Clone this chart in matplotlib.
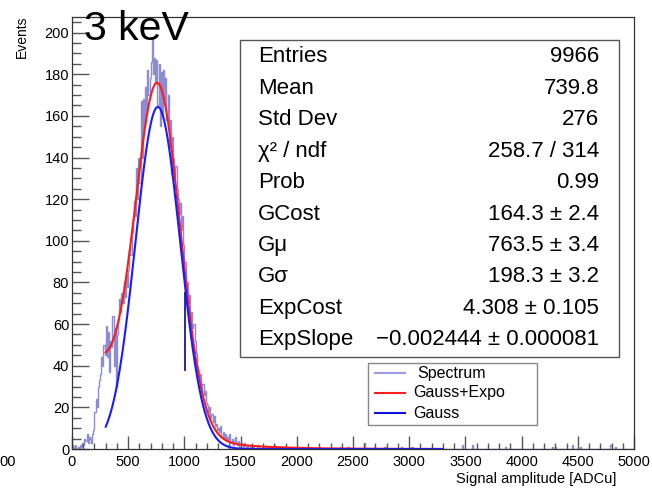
import numpy as np
import matplotlib
matplotlib.use('Agg')
import matplotlib.pyplot as plt
from matplotlib.patches import Rectangle
from matplotlib.lines import Line2D
from matplotlib.ticker import MultipleLocator

plt.rcParams['font.family'] = ['Liberation Sans', 'DejaVu Sans']

# ---------------- data ----------------
bin_width = 10
x_max = 5000

# counts per 10 ADCu bin, from 0 to 1600
main_counts = [
    2, 1, 0, 2, 0, 1, 0, 2, 1, 3,
    2, 5, 4, 7, 3, 6, 5, 3, 7, 9,
    18, 24, 20, 30, 33, 36, 44, 40, 50, 45,
    59, 44, 56, 37, 52, 49, 64, 40, 58, 30,
    55, 62, 72, 66, 75, 70, 80, 73, 84, 78,
    86, 96, 93, 104, 110, 119, 112, 135, 120, 140,
    128, 167, 140, 168, 155, 174, 162, 182, 170, 178,
    186, 197, 180, 188, 176, 187, 165, 185, 155, 181,
    160, 182, 168, 178, 158, 170, 145, 158, 132, 150,
    140, 131, 136, 125, 120, 113, 118, 105, 112, 98,
    90, 75, 80, 70, 74, 62, 66, 58, 60, 52,
    46, 40, 38, 33, 36, 28, 31, 26, 28, 22,
    21, 18, 20, 15, 17, 13, 16, 11, 12, 9,
    10, 8, 11, 6, 8, 5, 7, 4, 6, 4,
    7, 3, 5, 2, 4, 6, 3, 2, 4, 1,
    3, 2, 1, 3, 2, 1, 2, 0, 2, 1,
]

# sparse tail above 1600
tail_x = [1610, 1650, 1690, 1720, 1760, 1800, 1850, 1900, 1950, 2010, 2080, 2200,
          2380, 2450, 2600, 2690, 2780, 2930, 3020, 3470, 3560, 3850, 4270, 4300,
          4450, 4520, 4790, 4830]
tail_counts = [1, 2, 1, 1, 1, 2, 1, 1, 1, 1, 1, 1,
               1, 1, 3, 1, 1, 1, 1, 2, 2, 1, 1, 1,
               2, 1, 2, 1]

# odd dark spike at ~1000
spike_x = 1003
spike_lo, spike_hi = 38, 75

# fit parameters from the stats box
g_const, g_mu, g_sigma = 164.3, 763.5, 198.3
exp_const, exp_slope = 4.308, -0.002444
fit_lo, fit_hi = 300, 3300

stats_names = ['Entries', 'Mean', 'Std Dev', 'χ² / ndf', 'Prob', 'GCost',
               'Gμ', 'Gσ', 'ExpCost', 'ExpSlope']
stats_values = ['9966', '739.8', '276', '258.7 / 314', '0.99', '164.3 ± 2.4',
                '763.5 ± 3.4', '198.3 ± 3.2', '4.308 ± 0.105',
                '\u22120.002444 ± 0.000081']

legend_labels = ['Spectrum', 'Gauss+Expo', 'Gauss']
legend_colors = ['#9a9ae6', '#ff2020', '#1010d0']

# ---------------- build histogram ----------------
edges = np.arange(0, x_max + bin_width, bin_width)
counts = np.zeros(len(edges) - 1)
counts[:len(main_counts)] = main_counts
for x, c in zip(tail_x, tail_counts):
    counts[int(x // bin_width)] = c

xf = np.linspace(fit_lo, fit_hi, 600)
gauss = g_const * np.exp(-0.5 * ((xf - g_mu) / g_sigma) ** 2)
total = gauss + np.exp(exp_const + exp_slope * xf)

# ---------------- plot ----------------
W, H = 652, 490
fig = plt.figure(figsize=(W / 100, H / 100), dpi=100)
ax = fig.add_axes([72 / W, 1 - 449 / H, (634 - 72) / W, (449 - 17) / H])

ax.stairs(counts, edges, color='#4040b4', alpha=0.6, lw=1.0)
ax.plot(xf, total, color='#ff1a1a', lw=1.5)
ax.plot(xf, gauss, color='#1a1aff', lw=1.5)
ax.plot([spike_x, spike_x], [spike_lo, spike_hi], color='#1a1a90', lw=1.3)

ax.set_xlim(0, x_max)
ax.set_ylim(0, 207.5)
ax.xaxis.set_major_locator(MultipleLocator(500))
ax.xaxis.set_minor_locator(MultipleLocator(100))
ax.yaxis.set_major_locator(MultipleLocator(20))
ax.yaxis.set_minor_locator(MultipleLocator(5))
ax.tick_params(axis='both', which='both', direction='in', top=False, right=False,
               color='#555555', labelsize=10.5, width=1)
ax.tick_params(axis='x', which='major', length=9.4, pad=4)
ax.tick_params(axis='x', which='minor', length=4.5)
ax.tick_params(axis='y', which='major', length=12.2, pad=2)
ax.tick_params(axis='y', which='minor', length=6.5)
for s in ax.spines.values():
    s.set_color('#333333')
    s.set_linewidth(0.9)

fig.text(84 / W, 1 - 40 / H, '3 keV', fontsize=29.5, va='baseline', ha='left')
fig.text(22 / W, 1 - 15 / H, 'Events', rotation=90, fontsize=10, ha='center', va='top')
fig.text(616 / W, 1 - 479 / H, 'Signal amplitude [ADCu]', fontsize=10.5,
         ha='right', va='center')
fig.text(-1 / W, 1 - 462 / H, '00', fontsize=10.5, ha='left', va='center')

# stats box
fig.patches.append(Rectangle((240 / W, 1 - 357 / H), (619 - 240) / W, (357 - 40) / H,
                             transform=fig.transFigure, fill=True, facecolor='white',
                             edgecolor='#555555', lw=1.0, zorder=5))
for i, (n, v) in enumerate(zip(stats_names, stats_values)):
    y = 1 - (57 + i * 31.4) / H
    fig.text(258 / W, y, n, fontsize=16, ha='left', va='center', zorder=6)
    fig.text(599 / W, y, v, fontsize=16, ha='right', va='center', zorder=6)

# legend box
fig.patches.append(Rectangle((368 / W, 1 - 425 / H), (537 - 368) / W, (425 - 363) / H,
                             transform=fig.transFigure, fill=True, facecolor='white',
                             edgecolor='#888888', lw=1.0, zorder=5))
for i, (lab, c) in enumerate(zip(legend_labels, legend_colors)):
    y = 1 - (373 + i * 20) / H
    fig.lines.append(Line2D([375 / W, 405 / W], [y, y], transform=fig.transFigure,
                            color=c, lw=1.5, zorder=6))
    tx = 417 if i == 0 else 413
    fig.text(tx / W, y, lab, fontsize=11.5, ha='left', va='center', zorder=6)

fig.savefig('out.png', dpi=100)
